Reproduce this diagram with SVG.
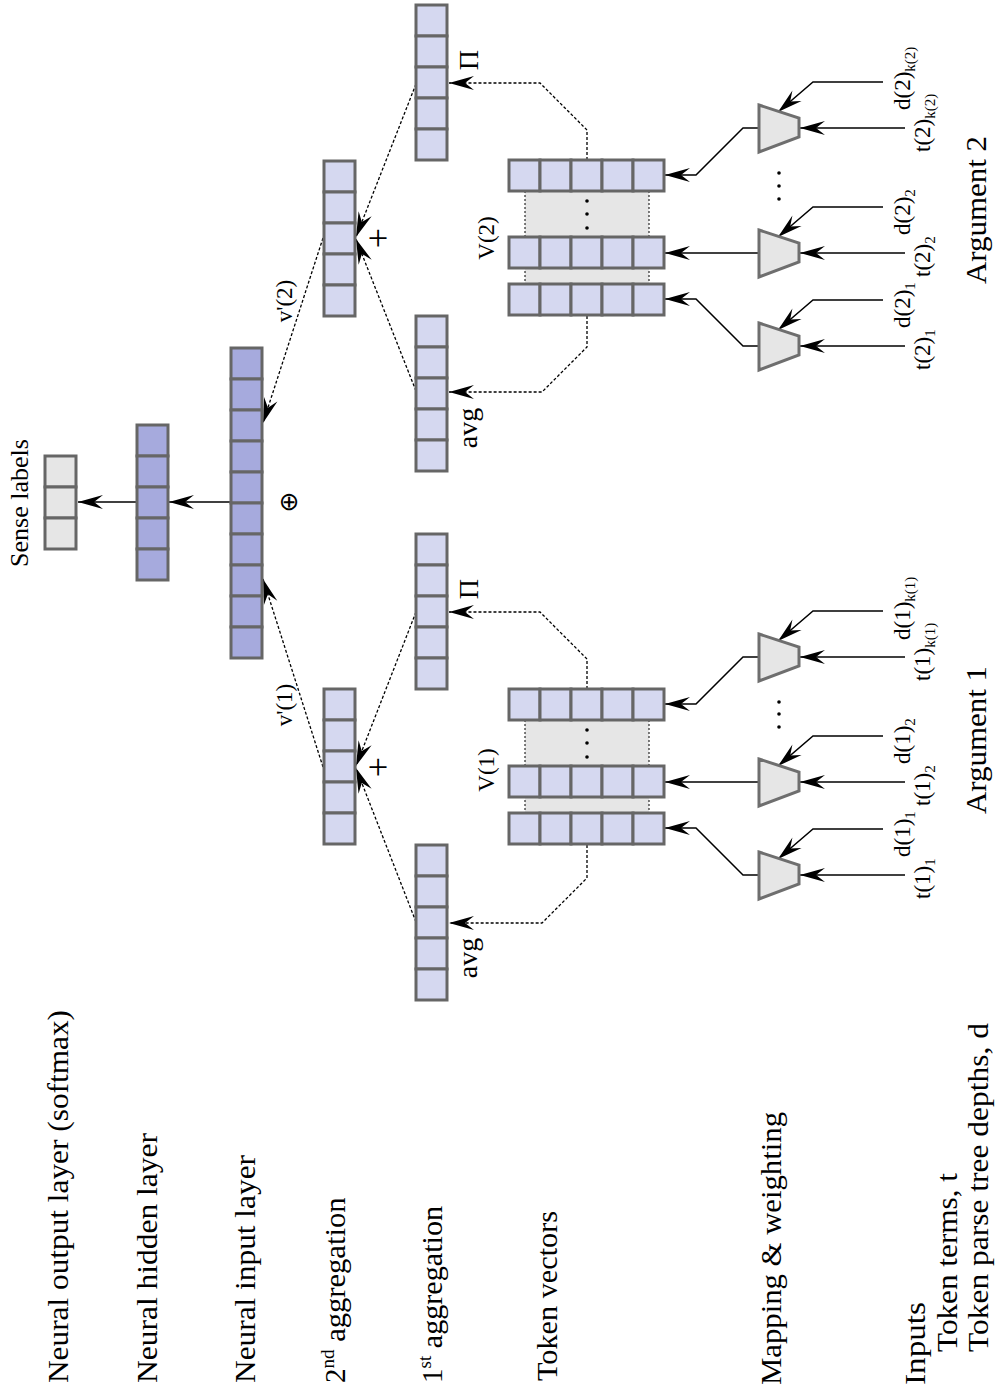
<svg xmlns="http://www.w3.org/2000/svg" width="998" height="1397" viewBox="0 0 998 1397">
  <style>
    .cl { fill: #d5d8f0; stroke: #666666; stroke-width: 3; }
    .cd { fill: #a6aadd; stroke: #666666; stroke-width: 3; }
    .cg { fill: #e6e6e6; stroke: #666666; stroke-width: 3; }
    .tr { fill: #e6e6e6; stroke: #6e6e6e; stroke-width: 3; stroke-linejoin: miter; }
    .band { fill: #e6e6e6; stroke: none; }
    .bandedge { fill: none; stroke: #000; stroke-width: 1; stroke-dasharray: 2 2; }
    .ln { fill: none; stroke: #000; stroke-width: 1.5; marker-end: url(#ah); }
    .dl { fill: none; stroke: #000; stroke-width: 1.3; stroke-dasharray: 3 2; marker-end: url(#ah); }
    .t { font-family: "Liberation Serif", "DejaVu Serif", serif; fill: #000; }
    .big { font-size: 29px; }
    .mid { font-size: 28px; }
    .sm { font-size: 23px; }
    .sub { font-size: 15px; }
    .dot { fill: #000; }
  </style>
  <defs>
    <marker id="ah" viewBox="0 -8 26 16" refX="25" refY="0" markerWidth="26" markerHeight="16" orient="auto" markerUnits="userSpaceOnUse">
      <path d="M0,-7 L25,0 L0,7 L9,0 Z" fill="#000" stroke="none"/>
    </marker>
  </defs>

  <rect width="998" height="1397" fill="#ffffff"/>

  <!-- layer captions, rotated to read bottom-to-top -->
  <g id="captions" class="t big">
    <text x="68" y="1383" transform="rotate(-90 68 1383)" textLength="373" lengthAdjust="spacingAndGlyphs">Neural output layer  (softmax)</text>
    <text x="157" y="1383" transform="rotate(-90 157 1383)" textLength="250" lengthAdjust="spacingAndGlyphs">Neural hidden layer</text>
    <text x="255" y="1383" transform="rotate(-90 255 1383)" textLength="228" lengthAdjust="spacingAndGlyphs">Neural input layer</text>
    <text x="345" y="1383" transform="rotate(-90 345 1383)">2<tspan font-size="19" dy="-11">nd</tspan><tspan dy="11" textLength="152" lengthAdjust="spacingAndGlyphs"> aggregation</tspan></text>
    <text x="442" y="1383" transform="rotate(-90 442 1383)">1<tspan font-size="19" dy="-11">st</tspan><tspan dy="11" textLength="150" lengthAdjust="spacingAndGlyphs"> aggregation</tspan></text>
    <text x="557" y="1381" transform="rotate(-90 557 1381)" textLength="170" lengthAdjust="spacingAndGlyphs">Token vectors</text>
    <text x="781" y="1385" transform="rotate(-90 781 1385)" textLength="273" lengthAdjust="spacingAndGlyphs">Mapping &amp; weighting</text>
    <text x="925" y="1385" transform="rotate(-90 925 1385)" textLength="83" lengthAdjust="spacingAndGlyphs">Inputs</text>
    <text x="957" y="1352" transform="rotate(-90 957 1352)" textLength="179" lengthAdjust="spacingAndGlyphs">Token terms, t</text>
    <text x="988" y="1352" transform="rotate(-90 988 1352)" textLength="329" lengthAdjust="spacingAndGlyphs">Token parse tree depths, d</text>
  </g>

  <!-- connectors -->
  <g id="connectors">
    <!-- network head -->
    <path class="ln" d="M231,502 L169,502"/>
    <path class="ln" d="M137,502 L78,502"/>
    <!-- second aggregation to input layer -->
    <path class="dl" d="M323,238 L263,423"/>
    <path class="dl" d="M323,767 L263,579"/>
    <!-- first aggregation to second aggregation -->
    <path class="dl" d="M416,84 L356,237"/>
    <path class="dl" d="M416,391 L356,239"/>
    <path class="dl" d="M416,612 L356,766"/>
    <path class="dl" d="M416,922 L356,768"/>
    <!-- token vectors to first aggregation -->
    <path class="dl" d="M587,160 L587,130 L540,83 L449,83"/>
    <path class="dl" d="M587,316 L587,347 L542,392 L449,392"/>
    <path class="dl" d="M587,689 L587,659 L540,612 L449,612"/>
    <path class="dl" d="M587,845 L587,878 L542,923 L449,923"/>
    <!-- mapping units to token vectors, argument 2 -->
    <path class="ln" d="M759,128 L743,128 L696,175 L665,175"/>
    <path class="ln" d="M759,253 L665,253"/>
    <path class="ln" d="M759,346 L743,346 L696,299 L665,299"/>
    <!-- mapping units to token vectors, argument 1 -->
    <path class="ln" d="M759,657 L743,657 L696,704 L665,704"/>
    <path class="ln" d="M759,782 L665,782"/>
    <path class="ln" d="M759,875 L743,875 L696,828 L665,828"/>
    <!-- term inputs -->
    <path class="ln" d="M905,128 L800,128"/>
    <path class="ln" d="M905,253 L800,253"/>
    <path class="ln" d="M905,346 L800,346"/>
    <path class="ln" d="M905,657 L800,657"/>
    <path class="ln" d="M905,782 L800,782"/>
    <path class="ln" d="M905,875 L800,875"/>
    <!-- depth inputs -->
    <path class="ln" d="M883,82 L813,82 L778,112"/>
    <path class="ln" d="M883,207 L813,207 L778,237"/>
    <path class="ln" d="M883,300 L813,300 L778,330"/>
    <path class="ln" d="M883,611 L813,611 L778,641"/>
    <path class="ln" d="M883,736 L813,736 L778,766"/>
    <path class="ln" d="M883,829 L813,829 L778,859"/>
  </g>

  <!-- output layer -->
  <g id="output-layer">
    <rect class="cg" x="45" y="456" width="31" height="31"/>
    <rect class="cg" x="45" y="487" width="31" height="31"/>
    <rect class="cg" x="45" y="518" width="31" height="31"/>
    <text class="t" font-size="26" x="28" y="503" text-anchor="middle" transform="rotate(-90 28 503)">Sense labels</text>
  </g>

  <!-- hidden layer -->
  <g id="hidden-layer">
    <rect class="cd" x="137" y="425" width="31" height="31"/>
    <rect class="cd" x="137" y="456" width="31" height="31"/>
    <rect class="cd" x="137" y="487" width="31" height="31"/>
    <rect class="cd" x="137" y="518" width="31" height="31"/>
    <rect class="cd" x="137" y="549" width="31" height="31"/>
  </g>

  <!-- input layer (concatenation) -->
  <g id="input-layer">
    <rect class="cd" x="231" y="348" width="31" height="31"/>
    <rect class="cd" x="231" y="379" width="31" height="31"/>
    <rect class="cd" x="231" y="410" width="31" height="31"/>
    <rect class="cd" x="231" y="441" width="31" height="31"/>
    <rect class="cd" x="231" y="472" width="31" height="31"/>
    <rect class="cd" x="231" y="503" width="31" height="31"/>
    <rect class="cd" x="231" y="534" width="31" height="31"/>
    <rect class="cd" x="231" y="565" width="31" height="31"/>
    <rect class="cd" x="231" y="596" width="31" height="31"/>
    <rect class="cd" x="231" y="627" width="31" height="31"/>
    <text x="297" y="502" font-family="DejaVu Sans, sans-serif" font-size="25" text-anchor="middle" transform="rotate(-90 297 502)">⊕</text>
    <text class="t sm" x="292" y="301" text-anchor="middle" transform="rotate(-90 292 301)">v'(2)</text>
    <text class="t sm" x="292" y="705" text-anchor="middle" transform="rotate(-90 292 705)">v'(1)</text>
  </g>

  <!-- second aggregation, argument 2 -->
  <g id="agg2-arg2">
    <rect class="cl" x="324" y="161" width="31" height="31"/>
    <rect class="cl" x="324" y="192" width="31" height="31"/>
    <rect class="cl" x="324" y="223" width="31" height="31"/>
    <rect class="cl" x="324" y="254" width="31" height="31"/>
    <rect class="cl" x="324" y="285" width="31" height="31"/>
    <text class="t" font-size="36" x="390" y="238" text-anchor="middle" transform="rotate(-90 390 238)">+</text>
  </g>

  <!-- second aggregation, argument 1 -->
  <g id="agg2-arg1">
    <rect class="cl" x="324" y="689" width="31" height="31"/>
    <rect class="cl" x="324" y="720" width="31" height="31"/>
    <rect class="cl" x="324" y="751" width="31" height="31"/>
    <rect class="cl" x="324" y="782" width="31" height="31"/>
    <rect class="cl" x="324" y="813" width="31" height="31"/>
    <text class="t" font-size="36" x="390" y="767" text-anchor="middle" transform="rotate(-90 390 767)">+</text>
  </g>

  <!-- first aggregation, argument 2 -->
  <g id="prod-arg2">
    <rect class="cl" x="416" y="5" width="31" height="31"/>
    <rect class="cl" x="416" y="36" width="31" height="31"/>
    <rect class="cl" x="416" y="67" width="31" height="31"/>
    <rect class="cl" x="416" y="98" width="31" height="31"/>
    <rect class="cl" x="416" y="129" width="31" height="31"/>
    <text class="t mid" x="478" y="60" text-anchor="middle" transform="rotate(-90 478 60)">Π</text>
  </g>
  <g id="avg-arg2">
    <rect class="cl" x="416" y="316" width="31" height="31"/>
    <rect class="cl" x="416" y="347" width="31" height="31"/>
    <rect class="cl" x="416" y="378" width="31" height="31"/>
    <rect class="cl" x="416" y="409" width="31" height="31"/>
    <rect class="cl" x="416" y="440" width="31" height="31"/>
    <text class="t mid" x="477" y="428" text-anchor="middle" transform="rotate(-90 477 428)">avg</text>
  </g>

  <!-- first aggregation, argument 1 -->
  <g id="prod-arg1">
    <rect class="cl" x="416" y="534" width="31" height="31"/>
    <rect class="cl" x="416" y="565" width="31" height="31"/>
    <rect class="cl" x="416" y="596" width="31" height="31"/>
    <rect class="cl" x="416" y="627" width="31" height="31"/>
    <rect class="cl" x="416" y="658" width="31" height="31"/>
    <text class="t mid" x="478" y="589" text-anchor="middle" transform="rotate(-90 478 589)">Π</text>
  </g>
  <g id="avg-arg1">
    <rect class="cl" x="416" y="845" width="31" height="31"/>
    <rect class="cl" x="416" y="876" width="31" height="31"/>
    <rect class="cl" x="416" y="907" width="31" height="31"/>
    <rect class="cl" x="416" y="938" width="31" height="31"/>
    <rect class="cl" x="416" y="969" width="31" height="31"/>
    <text class="t mid" x="477" y="958" text-anchor="middle" transform="rotate(-90 477 958)">avg</text>
  </g>

  <!-- token vectors, argument 2 -->
  <g id="tokens-arg2">
    <rect class="band" x="525" y="191" width="124" height="93"/>
    <path class="bandedge" d="M525,191 V284 M649,191 V284"/>
    <circle class="dot" cx="587" cy="201" r="1.8"/>
    <circle class="dot" cx="587" cy="214" r="1.8"/>
    <circle class="dot" cx="587" cy="228" r="1.8"/>
    <g>
      <rect class="cl" x="509" y="160" width="31" height="31"/>
      <rect class="cl" x="540" y="160" width="31" height="31"/>
      <rect class="cl" x="571" y="160" width="31" height="31"/>
      <rect class="cl" x="602" y="160" width="31" height="31"/>
      <rect class="cl" x="633" y="160" width="31" height="31"/>
    </g>
    <g>
      <rect class="cl" x="509" y="237" width="31" height="31"/>
      <rect class="cl" x="540" y="237" width="31" height="31"/>
      <rect class="cl" x="571" y="237" width="31" height="31"/>
      <rect class="cl" x="602" y="237" width="31" height="31"/>
      <rect class="cl" x="633" y="237" width="31" height="31"/>
    </g>
    <g>
      <rect class="cl" x="509" y="284" width="31" height="31"/>
      <rect class="cl" x="540" y="284" width="31" height="31"/>
      <rect class="cl" x="571" y="284" width="31" height="31"/>
      <rect class="cl" x="602" y="284" width="31" height="31"/>
      <rect class="cl" x="633" y="284" width="31" height="31"/>
    </g>
    <text class="t sm" x="494" y="238" text-anchor="middle" transform="rotate(-90 494 238)">V(2)</text>
  </g>

  <!-- token vectors, argument 1 -->
  <g id="tokens-arg1">
    <rect class="band" x="525" y="720" width="124" height="93"/>
    <path class="bandedge" d="M525,720 V813 M649,720 V813"/>
    <circle class="dot" cx="587" cy="730" r="1.8"/>
    <circle class="dot" cx="587" cy="743" r="1.8"/>
    <circle class="dot" cx="587" cy="757" r="1.8"/>
    <g>
      <rect class="cl" x="509" y="689" width="31" height="31"/>
      <rect class="cl" x="540" y="689" width="31" height="31"/>
      <rect class="cl" x="571" y="689" width="31" height="31"/>
      <rect class="cl" x="602" y="689" width="31" height="31"/>
      <rect class="cl" x="633" y="689" width="31" height="31"/>
    </g>
    <g>
      <rect class="cl" x="509" y="766" width="31" height="31"/>
      <rect class="cl" x="540" y="766" width="31" height="31"/>
      <rect class="cl" x="571" y="766" width="31" height="31"/>
      <rect class="cl" x="602" y="766" width="31" height="31"/>
      <rect class="cl" x="633" y="766" width="31" height="31"/>
    </g>
    <g>
      <rect class="cl" x="509" y="813" width="31" height="31"/>
      <rect class="cl" x="540" y="813" width="31" height="31"/>
      <rect class="cl" x="571" y="813" width="31" height="31"/>
      <rect class="cl" x="602" y="813" width="31" height="31"/>
      <rect class="cl" x="633" y="813" width="31" height="31"/>
    </g>
    <text class="t sm" x="494" y="770" text-anchor="middle" transform="rotate(-90 494 770)">V(1)</text>
  </g>

  <!-- mapping & weighting units, argument 2 -->
  <g id="map-arg2">
    <polygon class="tr" points="759,105 799,118 799,137 759,152"/>
    <polygon class="tr" points="759,230 799,243 799,262 759,277"/>
    <polygon class="tr" points="759,323 799,336 799,355 759,370"/>
    <circle class="dot" cx="779" cy="173" r="1.8"/>
    <circle class="dot" cx="779" cy="186" r="1.8"/>
    <circle class="dot" cx="779" cy="199" r="1.8"/>
  </g>

  <!-- mapping & weighting units, argument 1 -->
  <g id="map-arg1">
    <polygon class="tr" points="759,634 799,647 799,666 759,681"/>
    <polygon class="tr" points="759,759 799,772 799,791 759,806"/>
    <polygon class="tr" points="759,852 799,865 799,884 759,899"/>
    <circle class="dot" cx="779" cy="702" r="1.8"/>
    <circle class="dot" cx="779" cy="714" r="1.8"/>
    <circle class="dot" cx="779" cy="727" r="1.8"/>
  </g>

  <!-- inputs, argument 2 -->
  <g id="inputs-arg2" class="t sm">
    <text x="910" y="110" transform="rotate(-90 910 110)">d(2)<tspan class="sub" dy="5">k(2)</tspan></text>
    <text x="930" y="152" transform="rotate(-90 930 152)">t(2)<tspan class="sub" dy="5">k(2)</tspan></text>
    <text x="910" y="235" transform="rotate(-90 910 235)">d(2)<tspan class="sub" dy="5">2</tspan></text>
    <text x="930" y="277" transform="rotate(-90 930 277)">t(2)<tspan class="sub" dy="5">2</tspan></text>
    <text x="910" y="328" transform="rotate(-90 910 328)">d(2)<tspan class="sub" dy="5">1</tspan></text>
    <text x="930" y="370" transform="rotate(-90 930 370)">t(2)<tspan class="sub" dy="5">1</tspan></text>
    <text class="big" x="986" y="210" text-anchor="middle" transform="rotate(-90 986 210)" textLength="148" lengthAdjust="spacingAndGlyphs">Argument 2</text>
  </g>

  <!-- inputs, argument 1 -->
  <g id="inputs-arg1" class="t sm">
    <text x="910" y="640" transform="rotate(-90 910 640)">d(1)<tspan class="sub" dy="5">k(1)</tspan></text>
    <text x="930" y="681" transform="rotate(-90 930 681)">t(1)<tspan class="sub" dy="5">k(1)</tspan></text>
    <text x="910" y="764" transform="rotate(-90 910 764)">d(1)<tspan class="sub" dy="5">2</tspan></text>
    <text x="930" y="806" transform="rotate(-90 930 806)">t(1)<tspan class="sub" dy="5">2</tspan></text>
    <text x="910" y="857" transform="rotate(-90 910 857)">d(1)<tspan class="sub" dy="5">1</tspan></text>
    <text x="930" y="899" transform="rotate(-90 930 899)">t(1)<tspan class="sub" dy="5">1</tspan></text>
    <text class="big" x="986" y="740" text-anchor="middle" transform="rotate(-90 986 740)" textLength="148" lengthAdjust="spacingAndGlyphs">Argument 1</text>
  </g>
</svg>
